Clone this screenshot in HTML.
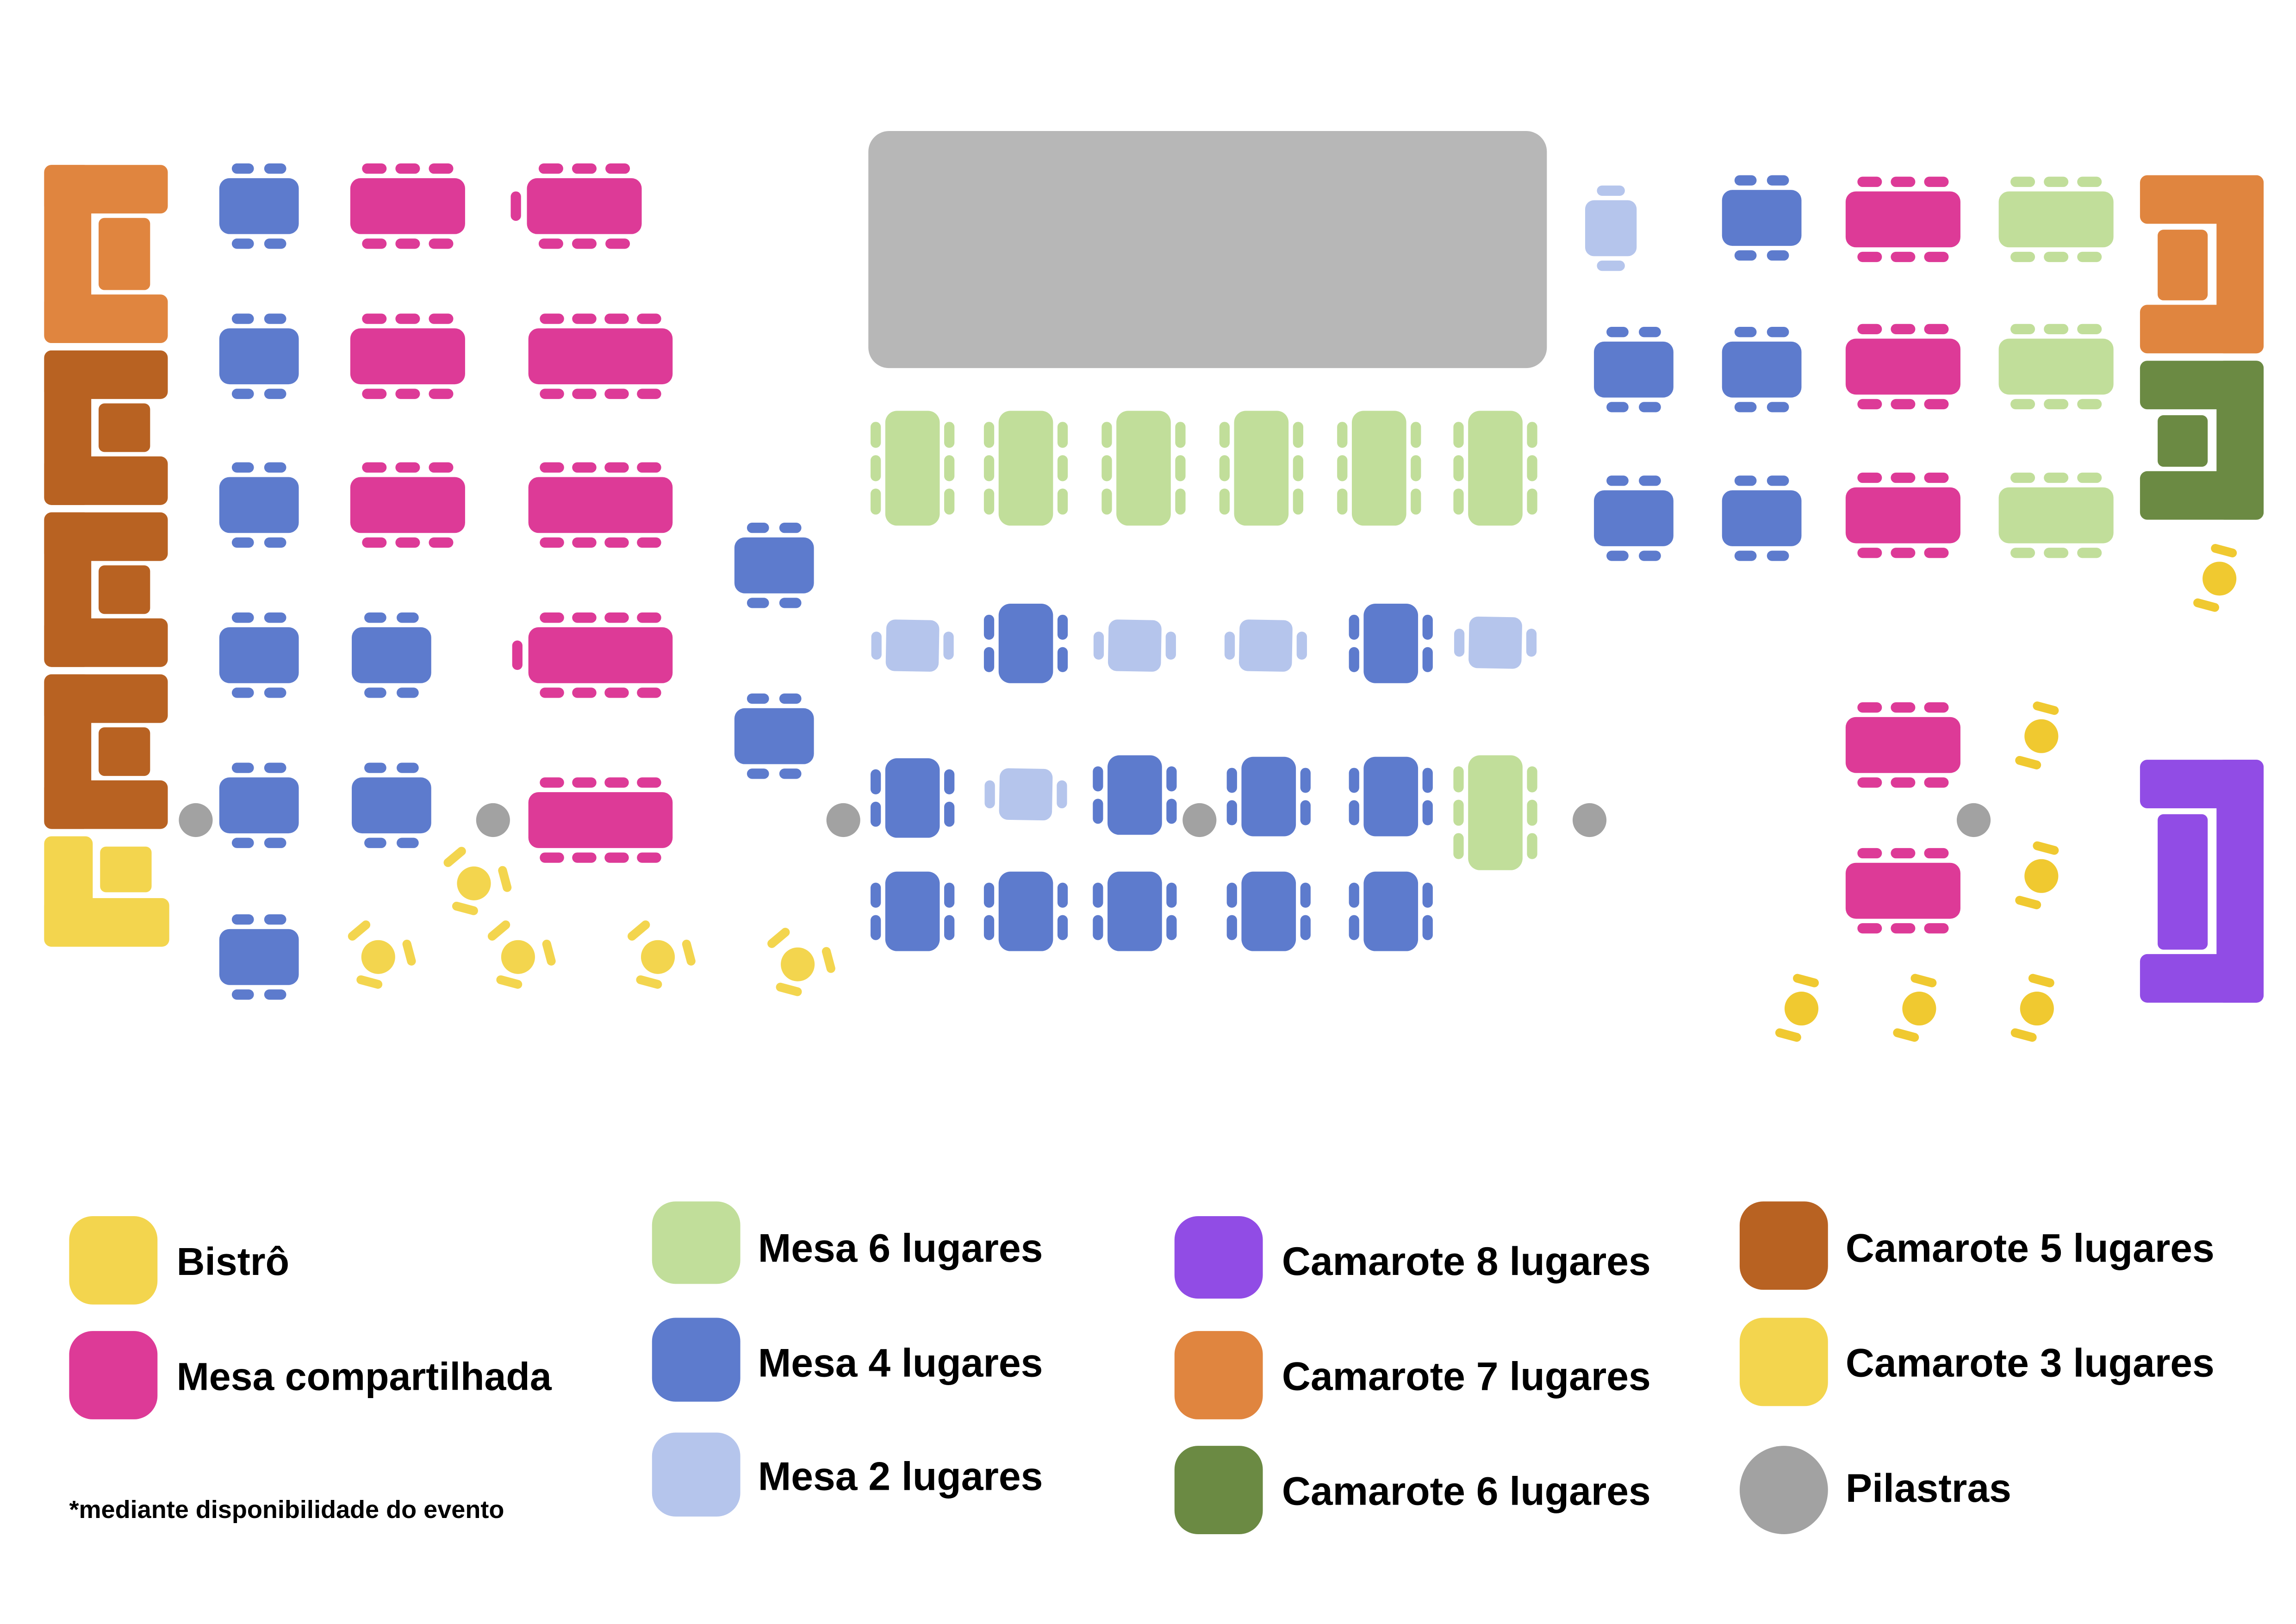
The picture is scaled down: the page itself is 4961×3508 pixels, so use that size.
<!DOCTYPE html>
<html><head><meta charset="utf-8">
<style>
html,body{margin:0;padding:0;background:#fff;width:4961px;height:3508px;overflow:hidden}
svg{display:block}
text{font-family:"Liberation Sans",sans-serif;font-weight:bold;fill:#000}
</style></head>
<body>
<svg id="s" width="4961" height="3508" viewBox="0 0 1560 1103" preserveAspectRatio="none" xmlns="http://www.w3.org/2000/svg">
<rect x="0" y="0" width="1560" height="1103" fill="#fff"/>
<rect x="590" y="89" width="461" height="161" rx="14" fill="#B7B7B7"/>
<g id="g"></g>
<rect x="47" y="826" width="60" height="60" rx="16" fill="#F3D54E"/>
<rect x="47" y="904" width="60" height="60" rx="16" fill="#DD3A97"/>
<rect x="443" y="816" width="60" height="56" rx="16" fill="#C1DE9A"/>
<rect x="443" y="895" width="60" height="57" rx="16" fill="#5D7BCD"/>
<rect x="443" y="973" width="60" height="57" rx="16" fill="#B5C5EC"/>
<rect x="798" y="826" width="60" height="56" rx="16" fill="#914CE5"/>
<rect x="798" y="904" width="60" height="60" rx="16" fill="#E0853F"/>
<rect x="798" y="982" width="60" height="60" rx="16" fill="#6B8A43"/>
<rect x="1182" y="816" width="60" height="60" rx="16" fill="#B86222"/>
<rect x="1182" y="895" width="60" height="60" rx="16" fill="#F3D54E"/>
<circle cx="1212" cy="1012" r="30" fill="#A2A2A2"/>
<text x="120" y="866" font-size="26.5">Bistrô</text>
<text x="120" y="944" font-size="26.5">Mesa compartilhada</text>
<text x="47" y="1031" font-size="17">*mediante disponibilidade do evento</text>
<text x="515" y="857" font-size="27">Mesa 6 lugares</text>
<text x="515" y="935" font-size="27">Mesa 4 lugares</text>
<text x="515" y="1012" font-size="27">Mesa 2 lugares</text>
<text x="871" y="866" font-size="27">Camarote 8 lugares</text>
<text x="871" y="944" font-size="27">Camarote 7 lugares</text>
<text x="871" y="1022" font-size="27">Camarote 6 lugares</text>
<text x="1254" y="857" font-size="27">Camarote 5 lugares</text>
<text x="1254" y="935" font-size="27">Camarote 3 lugares</text>
<text x="1254" y="1020" font-size="27">Pilastras</text>
</svg>
<script>
var g=document.getElementById('g'),out='';
function R(x,y,w,h,rx,c,t){out+='<rect x="'+x+'" y="'+y+'" width="'+w+'" height="'+h+'" rx="'+rx+'" fill="'+c+'"'+(t?' transform="'+t+'"':'')+'/>';}
function C(x,y,r,c){out+='<circle cx="'+x+'" cy="'+y+'" r="'+r+'" fill="'+c+'"/>';}
var BL='#5D7BCD',PK='#DD3A97',GR='#C1DE9A',LB='#B5C5EC',OR='#E0853F',BR='#B86222',YE='#F3D54E',BY='#F0C930',DG='#6B8A43',PU='#914CE5',GY='#A2A2A2';
function H(cx,cy,w,h,n,c,side){
 R(cx-w/2,cy-h/2,w,h,7,c);
 var cw=(w-16)/n-4; if(cw>18)cw=18;
 var span=w-10, step=span/n;
 for(var i=0;i<n;i++){var x=cx-span/2+step*i+(step-cw)/2;
  R(x,cy-h/2-10,cw,7,3.5,c);R(x,cy+h/2+3,cw,7,3.5,c);}
 if(side)R(cx-w/2-11,cy-10,7,20,3.5,c);
}
function V(cx,cy,w,h,n,c){
 R(cx-w/2,cy-h/2,w,h,8,c);
 var span=h-10,step=span/n,ch=step-5;
 for(var i=0;i<n;i++){var y=cy-span/2+step*i+2.5;
  R(cx-w/2-10,y,7,ch,3.5,c);R(cx+w/2+3,y,7,ch,3.5,c);}
}
function L2(cx,cy){R(cx-18,cy-17,36,35,6,LB,'rotate(1 '+cx+' '+cy+')');R(cx-28,cy-9,7,19,3.5,LB);R(cx+21,cy-9,7,19,3.5,LB);}
function CL(y0,y1,c){R(30,y0,84,33,5,c);R(30,y1-33,84,33,5,c);R(30,y0,32,y1-y0,5,c);R(67,y0+36,35,y1-y0-72,4,c);}
CL(112,233,OR);CL(238,343,BR);CL(348,453,BR);CL(458,563,BR);
R(30,568,33,75,5,YE);R(30,610,85,33,5,YE);R(68,575,35,31,4,YE);
function CR(y0,y1,c){R(1454,y0,84,33,5,c);R(1454,y1-33,84,33,5,c);R(1506,y0,32,y1-y0,5,c);R(1466,y0+37,34,y1-y0-73,4,c);}
CR(119,240,OR);CR(245,353,DG);CR(516,681,PU);
[140,242,343,445,547,650].forEach(function(y){H(176,y,54,38,2,BL);});
[445,547].forEach(function(y){H(266,y,54,38,2,BL);});
[140,242,343].forEach(function(y){H(277,y,78,38,3,PK);});
H(397,140,78,38,3,PK,1);
H(408,242,98,38,4,PK);H(408,343,98,38,4,PK);H(408,445,98,38,4,PK,1);H(408,557,98,38,4,PK);
H(526,384,54,38,2,BL);H(526,500,54,38,2,BL);
[620,697,777,857,937,1016].forEach(function(x){V(x,318,37,78,3,GR);});
L2(620,438);V(697,437,37,54,2,BL);L2(771,438);L2(860,438);V(945,437,37,54,2,BL);L2(1016,436);
V(620,542,37,54,2,BL);L2(697,539);V(771,540,37,54,2,BL);V(862,541,37,54,2,BL);V(945,541,37,54,2,BL);V(1016,552,37,78,3,GR);
[620,697,771,862,945].forEach(function(x){V(x,619,37,54,2,BL);});
R(1077,136,35,38,6,LB);R(1085,126,19,7,3.5,LB);R(1085,177,19,7,3.5,LB);
H(1197,148,54,38,2,BL);H(1110,251,54,38,2,BL);H(1110,352,54,38,2,BL);H(1197,251,54,38,2,BL);H(1197,352,54,38,2,BL);
[149,249,350,506,605].forEach(function(y){H(1293,y,78,38,3,PK);});
[149,249,350].forEach(function(y){H(1397,y,78,38,3,GR);});
[[133,557],[335,557],[573,557],[815,557],[1080,557],[1341,557]].forEach(function(p){C(p[0],p[1],11.5,GY);});
function B3(x,y){C(x,y,11.5,YE);
 R(x-22,y-21,18,6,3,YE,'rotate(-40 '+(x-13)+' '+(y-18)+')');
 R(x+12,y-6,18,6,3,YE,'rotate(75 '+(x+21)+' '+(y-3)+')');
 R(x-15,y+14,18,6,3,YE,'rotate(15 '+(x-6)+' '+(y+17)+')');}
[[322,600],[257,650],[352,650],[447,650],[542,655]].forEach(function(p){B3(p[0],p[1]);});
function B2(x,y){C(x,y,11.5,BY);
 R(x-6,y-22,18,6,3,BY,'rotate(15 '+(x+3)+' '+(y-19)+')');
 R(x-18,y+15,18,6,3,BY,'rotate(15 '+(x-9)+' '+(y+18)+')');}
[[1508,393],[1387,500],[1387,595],[1224,685],[1304,685],[1384,685]].forEach(function(p){B2(p[0],p[1]);});
g.innerHTML=out;
</script>
</body></html>
